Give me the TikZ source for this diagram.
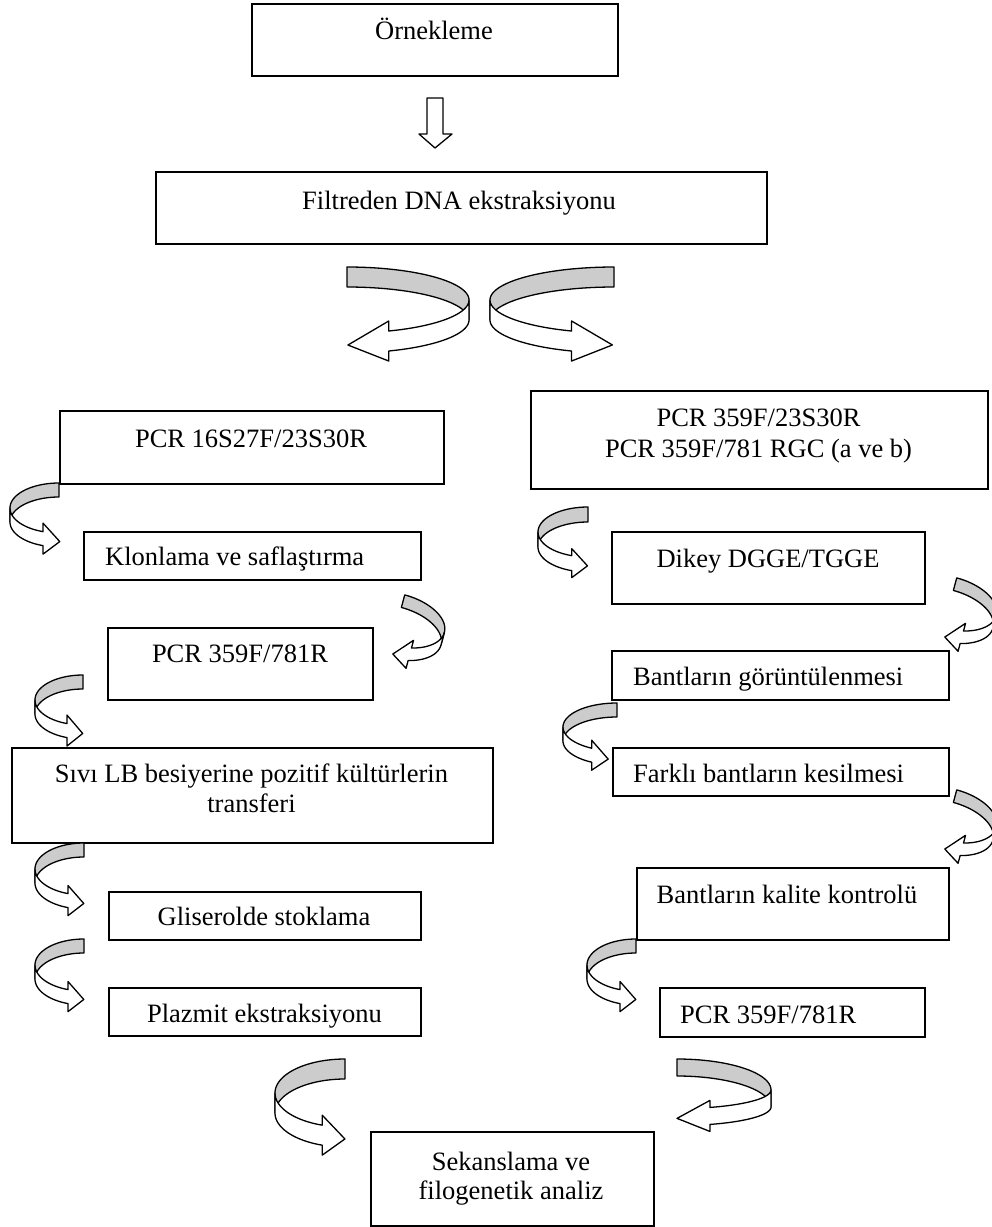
\documentclass[tikz,border=0pt]{standalone}
\usepackage{fontspec}
\setmainfont{Liberation Serif}
\definecolor{bandgray}{gray}{0.8}
\newcommand{\frontscale}{1}
% cx, cy, A (signed), B, h, end angle, head overhang, head length, rotation
\newcommand{\ribbon}[9]{%
  \begin{scope}[rotate around={#9:(#1,#2)}]
    \pgfmathsetmacro{\rbf}{(#4)*\frontscale}
    \pgfmathsetmacro{\rbx}{#1+(#3)*cos(#6)}
    \pgfmathsetmacro{\rby}{#2+\rbf*sin(#6)}
    \pgfmathsetmacro{\rdx}{-(#3)*sin(#6)}
    \pgfmathsetmacro{\rdy}{\rbf*cos(#6)}
    \pgfmathsetmacro{\rdn}{sqrt((\rdx)*(\rdx)+(\rdy)*(\rdy))}
    \pgfmathsetmacro{\rtx}{\rbx+(#8)*(\rdx)/\rdn}
    \pgfmathsetmacro{\rty}{\rby+(#5)/2+(#8)*(\rdy)/\rdn}
    \pgfmathsetmacro{\rhu}{\rby-(#7)}
    \pgfmathsetmacro{\rhd}{\rby+(#5)+(#7)}
    \draw[ribbonline,fill=bandgray] plot[domain=-90:0,samples=45] ({#1+(#3)*cos(\x)},{#2+(#4)*sin(\x)})
      -- plot[domain=0:-90,samples=45] ({#1+(#3)*cos(\x)},{#2+(#5)+(#4)*sin(\x)}) -- cycle;
    \draw[ribbonline,fill=white] plot[domain=0:#6,samples=45] ({#1+(#3)*cos(\x)},{#2+\rbf*sin(\x)})
      -- (\rbx,\rhu) -- (\rtx,\rty) -- (\rbx,\rhd)
      -- plot[domain=#6:0,samples=45] ({#1+(#3)*cos(\x)},{#2+(#5)+\rbf*sin(\x)}) -- cycle;
  \end{scope}}
\begin{document}
\begin{tikzpicture}[x=1pt,y=-1pt,
  boxst/.style={draw,line width=1.6pt,inner sep=0pt,anchor=north west},
  ribbonline/.style={draw,line width=1.3pt,line join=round},
  lbl/.style={font=\fontsize{26.5}{31}\selectfont,inner sep=0pt,anchor=base},
  lblw/.style={lbl,anchor=base west}]
\fill[white] (0,0) rectangle (992,1227);
\useasboundingbox (0,0) rectangle (992,1227);

% boxes
\node[boxst,minimum width=366pt,minimum height=72pt] (orn) at (251,3) {};
\node[boxst,minimum width=611pt,minimum height=72pt] (filt) at (155,171) {};
\node[boxst,minimum width=384pt,minimum height=73pt] (pcrA) at (59,410) {};
\node[boxst,minimum width=457pt,minimum height=98pt] (pcrB) at (530,390) {};
\node[boxst,minimum width=337pt,minimum height=48pt] (klon) at (83,531) {};
\node[boxst,minimum width=265pt,minimum height=72pt] (pcrC) at (107,627) {};
\node[boxst,minimum width=313pt,minimum height=72pt] (dikey) at (611,531) {};
\node[boxst,minimum width=337pt,minimum height=49pt] (bgor) at (611,650) {};
\node[boxst,minimum width=481pt,minimum height=95pt] (sivi) at (11,747) {};
\node[boxst,minimum width=336pt,minimum height=48pt] (fark) at (612,747) {};
\node[boxst,minimum width=312pt,minimum height=72pt] (bkal) at (636,867) {};
\node[boxst,minimum width=312pt,minimum height=48pt] (glis) at (108,891) {};
\node[boxst,minimum width=312pt,minimum height=48pt] (plaz) at (108,987) {};
\node[boxst,minimum width=265pt,minimum height=49pt] (pcrD) at (659,987) {};
\node[boxst,minimum width=283pt,minimum height=94pt] (sek) at (370,1131) {};

% texts
\node[lbl] (tOrn) at (434,39) {Örnekleme};
\node[lbl] (tFilt) at (459,209) {Filtreden DNA ekstraksiyonu};
\node[lbl] (tPcrA) at (251,447) {PCR 16S27F/23S30R};
\node[lbl] (tPcrB1) at (758.5,426) {PCR 359F/23S30R};
\node[lbl] (tPcrB2) at (758.5,457) {PCR 359F/781 RGC (a ve b)};
\node[lblw] (tKlon) at (105,565) {Klonlama ve saflaştırma};
\node[lbl] (tPcrC) at (240,662) {PCR 359F/781R};
\node[lbl] (tDikey) at (768,567) {Dikey DGGE/TGGE};
\node[lblw] (tBgor) at (633,685) {Bantların görüntülenmesi};
\node[lbl] (tSivi1) at (251.5,782) {Sıvı LB besiyerine pozitif kültürlerin};
\node[lbl] (tSivi2) at (251.5,812) {transferi};
\node[lblw] (tFark) at (633,782) {Farklı bantların kesilmesi};
\node[lbl] (tBkal) at (787,903) {Bantların kalite kontrolü};
\node[lbl] (tGlis) at (264,925) {Gliserolde stoklama};
\node[lbl] (tPlaz) at (264.5,1022) {Plazmit ekstraksiyonu};
\node[lblw] (tPcrD) at (680,1023) {PCR 359F/781R};
\node[lbl] (tSek1) at (511,1170) {Sekanslama ve};
\node[lbl] (tSek2) at (511,1199) {filogenetik analiz};

% straight block arrow
\draw[ribbonline,fill=white] (427,98) -- (443,98) -- (443,134) -- (452,134) -- (435,148)
  -- (419,134) -- (427,134) -- cycle;

% curved ribbon arrows
\ribbon{347}{300}{122}{33}{20}{70}{10}{41}{0}
\ribbon{614}{300}{-124}{33}{20}{70}{10}{41}{0}
\ribbon{59}{508}{-49}{25}{14}{71}{8.5}{17}{0}
\ribbon{398}{620}{48}{26}{13}{65}{8}{17}{-15}
\ribbon{83}{700}{-48}{25}{14}{70.5}{8.5}{16}{0}
\ribbon{588}{532}{-50}{25}{15}{71}{7}{16}{0}
\ribbon{950}{603}{48}{26}{13}{65}{8}{17}{-15}
\ribbon{617}{727}{-54}{24}{14}{62}{8}{17}{0}
\ribbon{950}{815}{48}{26}{13}{65}{8}{17}{-15}
\ribbon{84}{869}{-49}{26}{14}{71}{8}{16}{0}
\ribbon{84}{965}{-49}{26}{14}{71}{8}{16}{0}
\ribbon{636}{965}{-49}{26}{14}{71}{8}{16}{0}
\ribbon{345}{1093}{-70}{34}{20}{71}{10}{23}{0}
{\renewcommand{\frontscale}{0.6}\ribbon{677}{1090}{94}{31}{17}{69.5}{7}{33}{0}}
\end{tikzpicture}
\end{document}
